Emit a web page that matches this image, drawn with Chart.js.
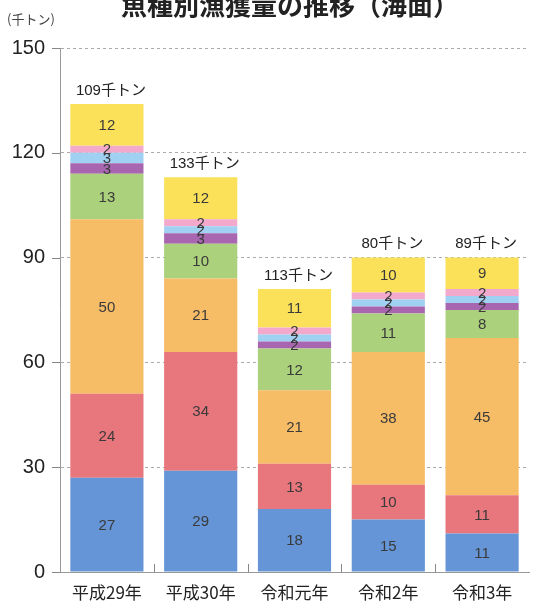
<!DOCTYPE html>
<html>
<head>
<meta charset="utf-8">
<script src="https://cdn.jsdelivr.net/npm/chart.js@4/dist/chart.umd.min.js"></script>
<style>
  html, body { margin: 0; padding: 0; background: #fff; }
  #wrap { position: relative; width: 537px; height: 605px; }
</style>
</head>
<body>
<div id="wrap"><canvas id="catchChart" width="537" height="605"></canvas></div>
<script>
// 年次
const years = ['平成29年', '平成30年', '令和元年', '令和2年', '令和3年'];

// 魚種別の値（千トン）下から順に
const seriesBlue   = [27, 29, 18, 15, 11];
const seriesRed    = [24, 34, 13, 10, 11];
const seriesOrange = [50, 21, 21, 38, 45];
const seriesGreen  = [13, 10, 12, 11, 8];
const seriesPurple = [3, 3, 2, 2, 2];
const seriesSky    = [3, 2, 2, 2, 2];
const seriesPink   = [2, 2, 2, 2, 2];
const seriesYellow = [12, 12, 11, 10, 9];

// 棒の上の合計ラベル（図のとおり）
const totalLabels = ['109千トン', '133千トン', '113千トン', '80千トン', '89千トン'];

// Y軸目盛
const yTicks = [0, 30, 60, 90, 120, 150];

const titleText = '魚種別漁獲量の推移（海面）';
const unitText = '(千トン)';

const FONT = '"Liberation Sans", "Noto Sans CJK JP", sans-serif';
const JFONT = '"Noto Sans CJK JP", "Liberation Sans", sans-serif';

const seriesList = [
    { data: seriesBlue,   color: '#6595d6' },
    { data: seriesRed,    color: '#e8767d' },
    { data: seriesOrange, color: '#f7bc66' },
    { data: seriesGreen,  color: '#abd17c' },
    { data: seriesPurple, color: '#a866b0' },
    { data: seriesSky,    color: '#a0d0f2' },
    { data: seriesPink,   color: '#f2a9cc' },
    { data: seriesYellow, color: '#fbe15a' }
];

// 数値ラベル・合計・タイトルなどを描く
const annotatePlugin = {
    id: 'annotate',
    afterDatasetsDraw(chart) {
        const ctx = chart.ctx;
        const area = chart.chartArea;
        const yScale = chart.scales.y;
        const xScale = chart.scales.x;
        ctx.save();

        // 各セグメントの値
        ctx.fillStyle = '#3a3a3a';
        ctx.font = '15px ' + FONT;
        ctx.textAlign = 'center';
        ctx.textBaseline = 'middle';
        chart.data.datasets.forEach((ds, i) => {
            const meta = chart.getDatasetMeta(i);
            meta.data.forEach((bar, j) => {
                const cy = (bar.y + bar.base) / 2;
                ctx.fillText(String(ds.data[j]), bar.x, cy + 1);
            });
        });

        // 合計ラベル
        const lastMeta = chart.getDatasetMeta(chart.data.datasets.length - 1);
        ctx.fillStyle = '#222';
        ctx.font = '15px ' + FONT;
        ctx.textBaseline = 'bottom';
        lastMeta.data.forEach((bar, j) => {
            ctx.fillText(totalLabels[j], bar.x + 4, bar.y - 6);
        });

        // Y軸の目盛り線（実線）
        ctx.strokeStyle = '#888';
        ctx.lineWidth = 1;
        yTicks.forEach(v => {
            const y = Math.round(yScale.getPixelForValue(v)) + 0.5;
            ctx.beginPath();
            ctx.moveTo(area.left - 8, y);
            ctx.lineTo(area.left, y);
            ctx.stroke();
        });

        // X軸の区切り（上向きの短い線）
        for (let j = 1; j < years.length; j++) {
            const x = Math.round((xScale.getPixelForValue(j - 1) + xScale.getPixelForValue(j)) / 2) + 0.5;
            ctx.beginPath();
            ctx.moveTo(x, area.bottom);
            ctx.lineTo(x, area.bottom - 8);
            ctx.stroke();
        }

        // タイトル（上端で切れている）
        ctx.fillStyle = '#222';
        ctx.font = 'bold 26px ' + JFONT;
        ctx.textAlign = 'center';
        ctx.textBaseline = 'alphabetic';
        ctx.fillText(titleText, 290, 15);

        // 単位
        ctx.fillStyle = '#444';
        ctx.font = '13px ' + JFONT;
        ctx.textAlign = 'left';
        ctx.textBaseline = 'middle';
        ctx.fillText(unitText, 7, 19);

        ctx.restore();
    }
};

const ctx = document.getElementById('catchChart').getContext('2d');
new Chart(ctx, {
    type: 'bar',
    data: {
        labels: years,
        datasets: seriesList.map(s => ({
            data: s.data,
            backgroundColor: s.color,
            borderWidth: 0,
            barPercentage: 0.78,
            categoryPercentage: 1.0
        }))
    },
    options: {
        responsive: false,
        animation: false,
        layout: {
            padding: { top: 48, right: 8, left: 0, bottom: 0 }
        },
        plugins: {
            legend: { display: false },
            tooltip: { enabled: false },
            title: { display: false }
        },
        scales: {
            x: {
                stacked: true,
                grid: { display: false },
                border: { display: true, color: '#999' },
                ticks: {
                    color: '#222',
                    font: { size: 17, family: JFONT },
                    padding: 2,
                    maxRotation: 0
                },
                afterFit(scale) { scale.height = 33; }
            },
            y: {
                stacked: true,
                min: 0,
                max: 150,
                afterBuildTicks(scale) {
                    scale.ticks = yTicks.map(v => ({ value: v }));
                },
                grid: {
                    color: '#aaa',
                    drawTicks: false
                },
                border: { display: true, color: '#999', dash: [3, 3] },
                ticks: {
                    color: '#222',
                    font: { size: 20, family: FONT },
                    padding: 15
                },
                afterFit(scale) { scale.width = 60; }
            }
        }
    },
    plugins: [annotatePlugin]
});
</script>
</body>
</html>
